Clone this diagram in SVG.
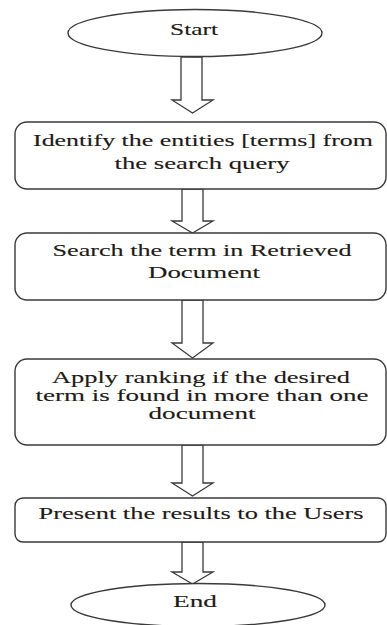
<svg xmlns="http://www.w3.org/2000/svg" width="387" height="625" viewBox="0 0 387 625">
<style>
.shape{fill:#fff;stroke:#3a3a3a;stroke-width:1.4}
.arr{fill:#fff;stroke:#3a3a3a;stroke-width:1.3;stroke-linejoin:miter}
.t{font-family:'Liberation Serif','DejaVu Serif','Times New Roman',serif;font-size:17px;fill:#1e1a16;stroke:#1e1a16;stroke-width:0.12;text-anchor:middle}
</style>
<rect width="387" height="625" fill="#fff"/>
<g id="connectors">
<polygon class="arr" points="181,57 202,57 202,100 213,100 192.5,113 172,100 181,100"/>
<polygon class="arr" points="182,189 203,189 203,221 213,221 192.5,233 172,221 182,221"/>
<polygon class="arr" points="182,300 203,300 203,343 213,343 192.5,358 172,343 182,343"/>
<polygon class="arr" points="182,445 203,445 203,483 213,483 192.5,496 172,483 182,483"/>
<polygon class="arr" points="182,542 203,542 203,572 213,572 192.5,584 172,572 182,572"/>
</g>
<g id="start">
<ellipse class="shape" cx="195" cy="33" rx="127" ry="23.5"/>
<text class="t" x="194" y="35" textLength="48" lengthAdjust="spacingAndGlyphs">Start</text>
</g>
<g id="identify">
<rect class="shape" x="15" y="122" width="371" height="67" rx="12"/>
<text class="t" x="203" y="146" textLength="340" lengthAdjust="spacingAndGlyphs">Identify the entities [terms] from</text>
<text class="t" x="202" y="169" textLength="175" lengthAdjust="spacingAndGlyphs">the search query</text>
</g>
<g id="search">
<rect class="shape" x="15" y="233" width="371" height="67" rx="12"/>
<text class="t" x="202" y="256" textLength="299" lengthAdjust="spacingAndGlyphs">Search the term in Retrieved</text>
<text class="t" x="204" y="278" textLength="112" lengthAdjust="spacingAndGlyphs">Document</text>
</g>
<g id="ranking">
<rect class="shape" x="15" y="359" width="371" height="86" rx="12"/>
<text class="t" x="201" y="383" textLength="298" lengthAdjust="spacingAndGlyphs">Apply ranking if the desired</text>
<text class="t" x="202" y="401" textLength="333" lengthAdjust="spacingAndGlyphs">term is found in more than one</text>
<text class="t" x="202" y="419" textLength="107" lengthAdjust="spacingAndGlyphs">document</text>
</g>
<g id="present">
<rect class="shape" x="15" y="498" width="371" height="44" rx="8"/>
<text class="t" x="201" y="519" textLength="325" lengthAdjust="spacingAndGlyphs">Present the results to the Users</text>
</g>
<g id="end">
<ellipse class="shape" cx="198" cy="605" rx="127" ry="21.5"/>
<text class="t" x="195" y="607" textLength="44" lengthAdjust="spacingAndGlyphs">End</text>
</g>
</svg>
